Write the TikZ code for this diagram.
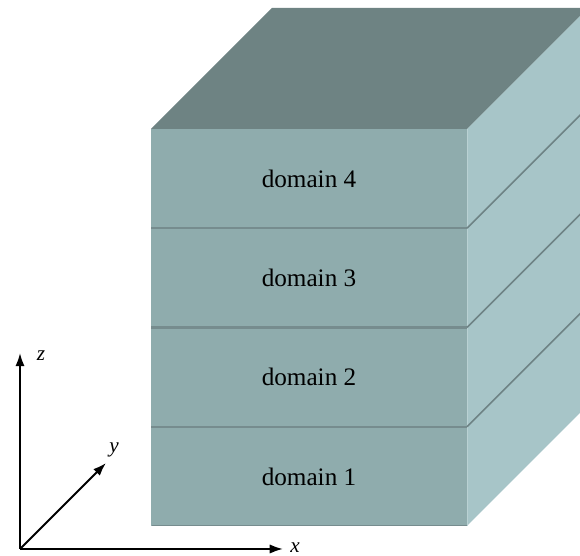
\documentclass[tikz,border=0pt]{standalone}
\usepackage{fontspec}
\setmainfont{Liberation Serif}
\usetikzlibrary{arrows,arrows.meta}
\definecolor{frontcol}{RGB}{143,172,173}
\definecolor{sidecol}{RGB}{167,197,200}
\definecolor{topcol}{RGB}{110,131,131}
\definecolor{edgecol}{RGB}{118,140,142}
\definecolor{sideedge}{RGB}{110,131,133}

\begin{document}
\begin{tikzpicture}[x=0.0265cm,y=0.0265cm]
	\clip (0,0) rectangle (580,556);
	% slabs, bottom to top
	\foreach \i in {1,...,4}{
		\pgfmathsetmacro{\yb}{30+(\i-1)*99.25}
		\pgfmathsetmacro{\yt}{\yb+99.25}
		\fill[frontcol] (151,\yb) rectangle (467,\yt);
		\fill[sidecol] (467,\yb) -- (588,\yb+121) -- (588,\yt+121) -- (467,\yt) -- cycle;
		\node[font=\fontsize{19}{23}\selectfont] (d\i) at (309,\yb+49.6) {domain \i};
	}
	\fill[topcol] (151,427) -- (272,548) -- (588,548) -- (467,427) -- cycle;
	\draw[sidecol!80!white,line width=0.6pt] (467,30) -- (467,427);
	\draw[edgecol,line width=0.8pt] (152,30.5) -- (467,30.5);
	% boundaries between domains
	\foreach \j in {1,2,3}{
		\pgfmathsetmacro{\yl}{30+\j*99.25}
		\draw[edgecol,line width=1.8pt] (151,\yl) -- (467,\yl);
		\draw[sideedge,line width=1.2pt] (467,\yl) -- (588,\yl+121);
	}
	% axes
	\coordinate (o) at (20,7);
	\coordinate (xend) at (283,7);
	\coordinate (yend) at (106,93);
	\coordinate (zend) at (20,203);
	\draw[-{Latex[length=10pt,width=7pt]},line width=1.5pt] (o) -- (xend);
	\draw[-{Latex[length=10pt,width=7pt]},line width=1.5pt] (o) -- (yend);
	\draw[-{Latex[length=10pt,width=7pt]},line width=1.5pt] (o) -- (zend);
	\node[font=\fontsize{16}{18}\selectfont\itshape] (xlab) at (295,8) {x};
	\node[font=\fontsize{16}{18}\selectfont\itshape] (ylab) at (114,106) {y};
	\node[font=\fontsize{16}{18}\selectfont\itshape] (zlab) at (41,200) {z};
\end{tikzpicture}
\end{document}
